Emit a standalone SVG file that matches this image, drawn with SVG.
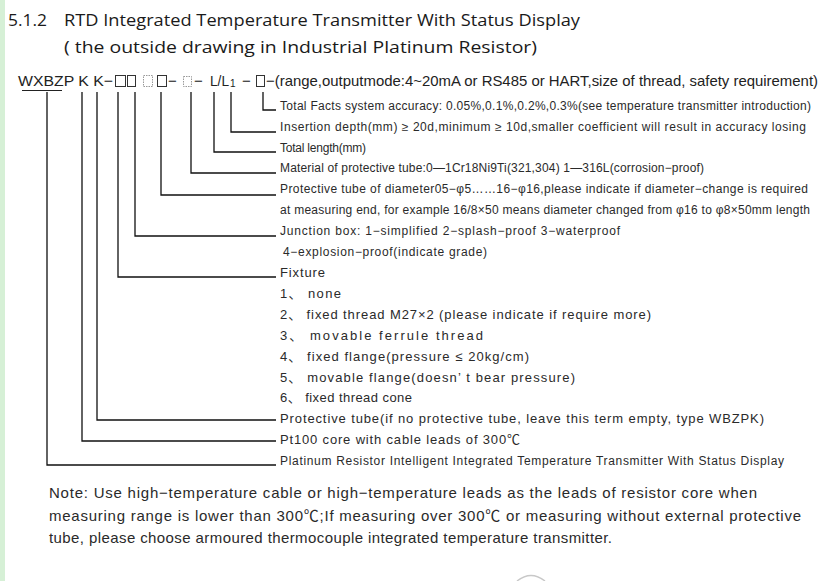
<svg xmlns="http://www.w3.org/2000/svg" width="836" height="581" viewBox="0 0 836 581">
<style>
.title{font-family:"Open Sans","Noto Sans",sans-serif;font-size:17px;fill:#1a1a1a}
.code{font-family:"Liberation Sans",Arial,"Noto Sans CJK SC",sans-serif;font-size:15px;fill:#222}
.d{font-family:"Liberation Sans",Arial,"Noto Sans CJK SC",sans-serif;font-size:12px;fill:#2a2a2a}
.f{font-family:"Liberation Sans",Arial,"Noto Sans CJK SC",sans-serif;font-size:13px;fill:#2a2a2a}
.note{font-family:"Liberation Sans",Arial,"Noto Sans CJK SC",sans-serif;font-size:15px;fill:#2a2a2a}
.ln{fill:none;stroke:#111;stroke-width:1.3}
.sq{fill:none;stroke:#333;stroke-width:1}
.sqg{fill:none;stroke:#999;stroke-width:1;stroke-dasharray:1.5 1}
</style>
<rect x="0" y="0" width="836" height="581" fill="#ffffff"/>
<rect x="0" y="0" width="5" height="581" fill="#d6f0d6"/>

<g id="title">
<text class="title" x="8" y="26" textLength="39" lengthAdjust="spacingAndGlyphs">5.1.2</text>
<text class="title" x="64" y="26" textLength="516" lengthAdjust="spacingAndGlyphs">RTD Integrated Temperature Transmitter With Status Display</text>
<text class="title" x="64" y="53" textLength="473" lengthAdjust="spacingAndGlyphs">( the outside drawing in Industrial Platinum Resistor)</text>
</g>

<g id="model-code">
<text class="code" x="18" y="86" textLength="95" lengthAdjust="spacingAndGlyphs">WXBZP K K−</text>
<line x1="22" y1="90.5" x2="62" y2="90.5" stroke="#222" stroke-width="1"/>
<rect class="sq" x="115.5" y="75.5" width="10" height="11"/>
<rect class="sq" x="127.5" y="75.5" width="8" height="11"/>
<rect class="sqg" x="143.5" y="75.5" width="9" height="11"/>
<rect class="sq" x="157.5" y="75.5" width="9" height="11"/>
<text class="code" x="168" y="86">−</text>
<rect class="sqg" x="183.5" y="76.5" width="8" height="10"/>
<text class="code" x="194" y="86">−</text>
<text class="code" x="210" y="86" textLength="19" lengthAdjust="spacingAndGlyphs">L/L</text>
<text class="code" x="230" y="87" style="font-size:10px">1</text>
<text class="code" x="242" y="86">−</text>
<rect class="sq" x="256.5" y="75.5" width="8" height="11"/>
<text class="code" x="266" y="86" textLength="552" lengthAdjust="spacingAndGlyphs">−(range,outputmode:4~20mA or RS485 or HART,size of thread, safety requirement)</text>
</g>

<g id="connectors">
<path class="ln" d="M263,92 V110 H276"/>
<path class="ln" d="M231,92 V132 H276"/>
<path class="ln" d="M214,92 V152 H276"/>
<path class="ln" d="M191,92 V173 H276"/>
<path class="ln" d="M161,92 V195 H276"/>
<path class="ln" d="M135,92 V236 H276"/>
<path class="ln" d="M118,92 V277 H276"/>
<path class="ln" d="M97,92 V420 H276"/>
<path class="ln" d="M82,92 V441 H276"/>
<path class="ln" d="M47,92 V465 H276"/>
</g>

<g id="accuracy"><text class="d" x="280" y="110" textLength="531">Total Facts system accuracy: 0.05%,0.1%,0.2%,0.3%(see temperature transmitter introduction)</text></g>
<g id="insertion"><text class="d" x="280" y="131" textLength="526">Insertion depth(mm) ≥ 20d,minimum ≥ 10d,smaller coefficient will result in accuracy losing</text></g>
<g id="total-length"><text class="d" x="280" y="152" textLength="86">Total length(mm)</text></g>
<g id="material"><text class="d" x="280" y="172" textLength="424">Material of protective tube:0—1Cr18Ni9Ti(321,304)  1—316L(corrosion−proof)</text></g>
<g id="diameter">
<text class="d" x="280" y="193" textLength="528">Protective tube of diameter05−φ5……16−φ16,please indicate if diameter−change is required</text>
<text class="d" x="280" y="214" textLength="530">at measuring end, for example 16/8×50 means diameter changed from φ16 to φ8×50mm length</text>
</g>
<g id="junction">
<text class="d" x="280" y="235" textLength="340">Junction box: 1−simplified    2−splash−proof    3−waterproof</text>
<text class="d" x="283" y="256" textLength="204">4−explosion−proof(indicate grade)</text>
</g>
<g id="fixture">
<text class="f" x="280" y="277" textLength="45">Fixture</text>
<text class="f" x="280" y="298" textLength="61">1、 none</text>
<text class="f" x="280" y="319" textLength="371">2、 fixed thread M27×2 (please indicate if require more)</text>
<text class="f" x="280" y="340" textLength="203">3、 movable ferrule thread</text>
<text class="f" x="280" y="361" textLength="249">4、 fixed flange(pressure ≤ 20kg/cm)</text>
<text class="f" x="280" y="382" textLength="295">5、 movable flange(doesn’ t bear pressure)</text>
<text class="f" x="280" y="402" textLength="132">6、 fixed thread cone</text>
</g>
<g id="protective-tube"><text class="f" x="280" y="423" textLength="484">Protective tube(if no protective tube, leave this term empty, type WBZPK)</text></g>
<g id="core"><text class="f" x="280" y="444" textLength="240">Pt100 core with cable leads of 300℃</text></g>
<g id="product"><text class="d" x="280" y="465" textLength="504">Platinum Resistor Intelligent Integrated Temperature Transmitter With Status Display</text></g>

<g id="note">
<text class="note" x="49" y="498" textLength="708">Note: Use high−temperature cable or high−temperature leads as the leads of resistor core when</text>
<text class="note" x="49" y="521" textLength="752">measuring range is lower than 300℃;If measuring over 300℃ or measuring without external protective</text>
<text class="note" x="49" y="543" textLength="563">tube, please choose armoured thermocouple integrated temperature transmitter.</text>
</g>
<path d="M517,581 Q531,570 545,581" fill="none" stroke="#c8c8c8" stroke-width="1.5"/>
</svg>
